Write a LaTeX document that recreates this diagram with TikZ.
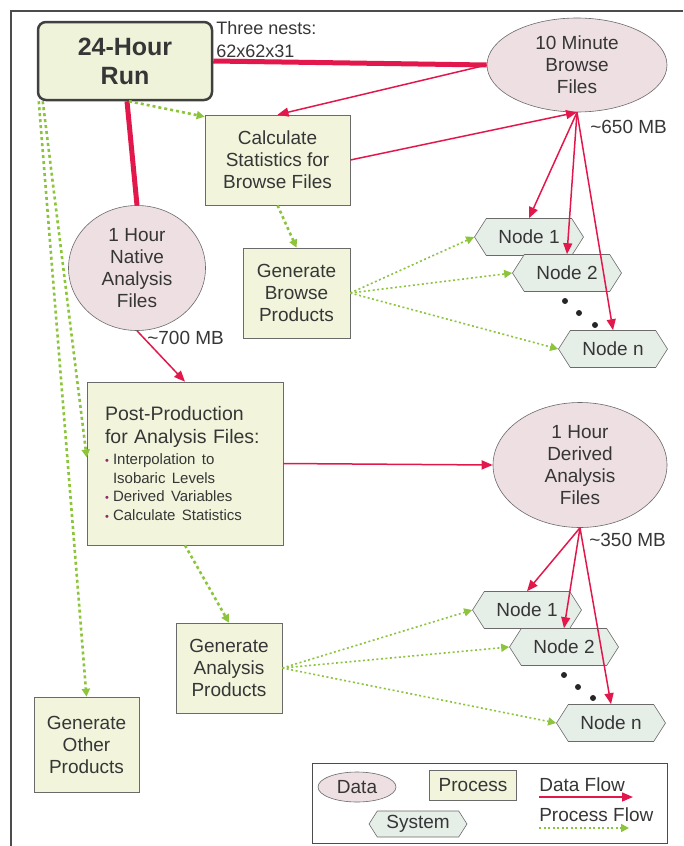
\documentclass[tikz,border=0pt]{standalone}
\usepackage{fontspec}
\setmainfont{Liberation Sans}
\usetikzlibrary{shapes.geometric,shapes.symbols,arrows.meta}

\definecolor{runfill}{HTML}{EEF3DA}
\definecolor{procfill}{HTML}{F2F5DC}
\definecolor{datafill}{HTML}{EDDFE2}
\definecolor{sysfill}{HTML}{E6EEE8}
\definecolor{flowred}{HTML}{E2184C}
\definecolor{flowgreen}{HTML}{8CC43C}
\definecolor{inkgray}{HTML}{363636}
\definecolor{edgegray}{HTML}{6A6A6A}
\definecolor{bulcol}{HTML}{8E2A6A}
\newcommand{\bodyfont}{\fontsize{19}{22}\selectfont}
\newcommand{\bul}{\makebox[8pt][l]{\textcolor{bulcol}{\fontsize{11}{11}\selectfont\textbullet}}}

\begin{document}
\begin{tikzpicture}[x=1pt,y=-1pt,semithick,text=inkgray,
    procbox/.style={rectangle,draw=edgegray,fill=procfill,align=center,font=\bodyfont,inner sep=2pt},
    datafile/.style={ellipse,draw=edgegray,fill=datafill,align=center,font=\bodyfont,inner sep=0pt},
    sysnode/.style={signal,signal to=west and east,signal pointer angle=115,draw=edgegray,
      fill=sysfill,font=\bodyfont,minimum width=109pt,minimum height=37pt,inner sep=1pt},
    dflow/.style={flowred,line width=1.5pt,-{Triangle[length=11pt,width=9pt]}},
    dthick/.style={flowred,line width=5pt},
    pflow/.style={flowgreen,line width=2.6pt,dash pattern=on 3pt off 3pt,-{Triangle[length=8pt,width=8pt]}},
    pthin/.style={flowgreen,line width=1.6pt,dash pattern=on 2pt off 2.5pt,-{Triangle[length=8pt,width=8pt]}},
    fdot/.style={circle,fill=black!85,inner sep=0pt,minimum size=6pt}
    ]
\useasboundingbox (0,0) rectangle (683,846);
\draw[black!70,line width=1.8pt] (11,846) -- (11,11) -- (683,11);

% upper part: run and browse files
\node[procbox,rounded corners=8pt,fill=runfill,draw=black!75,line width=2.5pt,
  font=\fontsize{25}{29}\selectfont\bfseries,minimum width=174pt,minimum height=78pt] (run) at (125,61) {24-Hour\\Run};
\node[align=left,anchor=north west,font=\fontsize{18}{23}\selectfont,inner sep=0pt] (nests) at (216,21) {Three nests:\\62x62x31};
\node[datafile,minimum width=180pt,minimum height=94pt] (tenmin) at (577,65) {10 Minute\\Browse\\Files};
\node[anchor=west,font=\bodyfont,inner sep=0pt] (mb650) at (590,127) {\textasciitilde650 MB};
\node[procbox,minimum width=145pt,minimum height=90pt] (calc) at (277.5,160) {Calculate\\Statistics for\\Browse Files};
\node[datafile,minimum width=137pt,minimum height=125pt] (native) at (137,268) {1 Hour\\Native\\Analysis\\Files};
\node[anchor=west,font=\bodyfont,inner sep=0pt] (mb700) at (147,338) {\textasciitilde700 MB};
\node[procbox,minimum width=107pt,minimum height=90pt] (genbrowse) at (296.5,293) {Generate\\Browse\\Products};
\node[sysnode] (bnodeone) at (529,237) {Node 1};
\node[sysnode] (bnodetwo) at (567,273) {Node 2};
\node[fdot] (bdotone) at (565,301) {};
\node[fdot] (bdottwo) at (579,313) {};
\node[fdot] (bdotthree) at (595,325) {};
\node[sysnode] (bnoden) at (613,349) {Node n};

% lower part: analysis files
\node[procbox,text width=160pt,align=left,minimum width=196pt,minimum height=163pt] (post) at (185,463.5) {%
  {\fontsize{19.5}{23}\selectfont Post-Production\\for Analysis Files:\par}
  \vspace{3pt}
  {\fontsize{15}{18.5}\selectfont\bul Interpolation to\\\hspace*{8pt}Isobaric Levels\\\bul Derived Variables\\\bul Calculate Statistics\par}};
\node[datafile,minimum width=174pt,minimum height=125pt] (derived) at (580,465) {1 Hour\\Derived\\Analysis\\Files};
\node[anchor=west,font=\bodyfont,inner sep=0pt] (mb350) at (589,540) {\textasciitilde350 MB};
\node[procbox,minimum width=106pt,minimum height=90pt] (genana) at (229,668) {Generate\\Analysis\\Products};
\node[sysnode] (anodeone) at (527,610) {Node 1};
\node[sysnode] (anodetwo) at (564,647) {Node 2};
\node[fdot] (adotone) at (564,675) {};
\node[fdot] (adottwo) at (578,687) {};
\node[fdot] (adotthree) at (593,698) {};
\node[sysnode] (anoden) at (611,723) {Node n};
\node[procbox,minimum width=105pt,minimum height=95pt] (genother) at (86.5,744.5) {Generate\\Other\\Products};

% legend
\node[draw=black!70,line width=1pt,minimum width=355pt,minimum height=80pt] (legend) at (489.5,803) {};
\node[datafile,minimum width=78pt,minimum height=30pt] (keydata) at (357,787) {Data};
\node[procbox,minimum width=87pt,minimum height=30pt] (keyproc) at (473,785) {Process};
\node[sysnode,minimum width=98pt,minimum height=26pt] (keysys) at (418,824) {System};
\node[anchor=west,font=\bodyfont,inner sep=0pt] (keydflow) at (539,785) {Data Flow};
\node[anchor=west,font=\bodyfont,inner sep=0pt] (keypflow) at (539,815) {Process Flow};
\coordinate (dfa) at (539,797);
\coordinate (dfb) at (633,797);
\coordinate (pfa) at (539,828);
\coordinate (pfb) at (629,828);

% data flow
\draw[dthick] (run.east) -- (tenmin.west);
\draw[dthick] ([xshift=2pt]run.south) -- (native.north);
\draw[dflow] (tenmin.west) -- (calc.north);
\draw[dflow] (calc.east) -- (tenmin.south);
\draw[dflow] (tenmin.south) -- (bnodeone.north);
\draw[dflow] (tenmin.south) -- (bnodetwo.north);
\draw[dflow] (tenmin.south) -- (bnoden.north);
\draw[dflow] (native.south) -- (post.north);
\draw[dflow] (post.east) -- (derived.west);
\draw[dflow] (derived.south) -- (anodeone.north);
\draw[dflow] (derived.south) -- (anodetwo.north);
\draw[dflow] (derived.south) -- (anoden.north);
\draw[dflow] (dfa) -- (dfb);

% process flow
\draw[pflow] ([xshift=4pt]run.south) -- ([yshift=-2pt]calc.north west);
\draw[pflow] ([xshift=2pt]run.south west) -- (genother.north);
\draw[pflow] ([xshift=6pt]run.south west) -- ([yshift=6pt]post.west);
\draw[pflow] (calc.south) -- (genbrowse.north);
\draw[pflow] (post.south) -- (genana.north);
\draw[pthin] (genbrowse.east) -- (bnodeone.west);
\draw[pthin] (genbrowse.east) -- (bnodetwo.west);
\draw[pthin] (genbrowse.east) -- (bnoden.west);
\draw[pthin] (genana.east) -- (anodeone.west);
\draw[pthin] (genana.east) -- (anodetwo.west);
\draw[pthin] (genana.east) -- (anoden.west);
\draw[pthin] (pfa) -- (pfb);
\end{tikzpicture}
\end{document}
